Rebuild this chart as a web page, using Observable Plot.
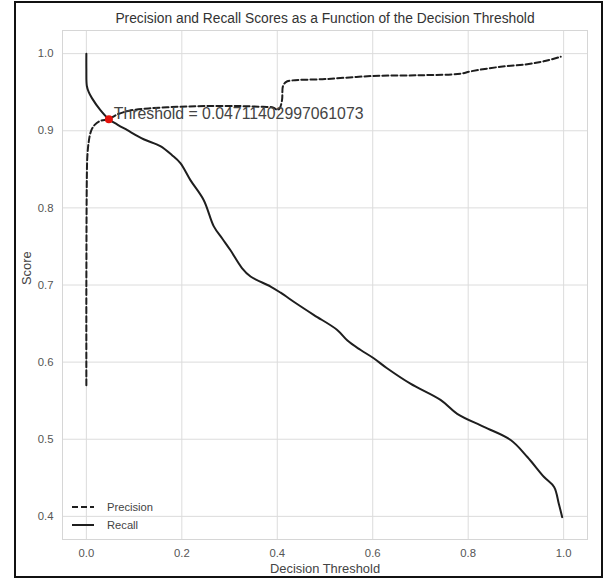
<!DOCTYPE html>
<html>
<head>
<meta charset="utf-8">
<script src="https://cdn.jsdelivr.net/npm/d3@7"></script>
<script src="https://cdn.jsdelivr.net/npm/@observablehq/plot@0.6"></script>
<style>
  html, body { margin: 0; padding: 0; background: #fff; }
  #wrap { position: relative; width: 606px; height: 582px; font-family: "Liberation Sans", Arial, sans-serif; }
  #border { position: absolute; left: 14px; top: 1px; width: 589px; height: 577px; border: 2px solid #111; box-sizing: border-box; pointer-events: none; }
  #legend { position: absolute; left: 0; top: 0; pointer-events: none; }
</style>
</head>
<body>
<div id="wrap"></div>
<script>
const titleText = "Precision and Recall Scores as a Function of the Decision Threshold";
const xLabel = "Decision Threshold";
const yLabel = "Score";
const xTicks = [0, 0.2, 0.4, 0.6, 0.8, 1.0];
const yTicks = [0.4, 0.5, 0.6, 0.7, 0.8, 0.9, 1.0];

const precisionThresholds = [0.000, 0.000, 0.001, 0.002, 0.005, 0.010, 0.018, 0.030, 0.047, 0.064, 0.090, 0.130, 0.190, 0.250, 0.320, 0.370, 0.392, 0.400, 0.405, 0.410, 0.412, 0.418, 0.428, 0.500, 0.600, 0.700, 0.784, 0.805, 0.868, 0.920, 0.958, 0.994];
const precisionValues     = [0.570, 0.700, 0.840, 0.866, 0.886, 0.900, 0.908, 0.913, 0.915, 0.921, 0.926, 0.929, 0.931, 0.932, 0.932, 0.931, 0.930, 0.927, 0.929, 0.940, 0.958, 0.963, 0.965, 0.967, 0.971, 0.972, 0.974, 0.977, 0.983, 0.986, 0.990, 0.996];

const recallThresholds = [0.000, 0.000, 0.001, 0.005, 0.012, 0.029, 0.047, 0.065, 0.085, 0.120, 0.155, 0.180, 0.197, 0.218, 0.246, 0.267, 0.285, 0.302, 0.326, 0.344, 0.386, 0.407, 0.440, 0.477, 0.525, 0.547, 0.574, 0.602, 0.630, 0.679, 0.742, 0.777, 0.833, 0.889, 0.924, 0.959, 0.980, 0.990, 0.997];
const recallValues     = [1.000, 0.980, 0.958, 0.950, 0.942, 0.927, 0.915, 0.908, 0.901, 0.889, 0.880, 0.868, 0.858, 0.836, 0.810, 0.776, 0.760, 0.745, 0.722, 0.711, 0.698, 0.690, 0.676, 0.661, 0.642, 0.628, 0.616, 0.605, 0.592, 0.572, 0.551, 0.533, 0.516, 0.499, 0.477, 0.451, 0.438, 0.416, 0.399];

const bestThreshold = 0.04711402997061073;
const bestScore = 0.915;
const annotationText = "Threshold = " + bestThreshold;
const legendLabels = ["Precision", "Recall"];

const precision = precisionThresholds.map((t, i) => ({t, v: precisionValues[i]}));
const recall = recallThresholds.map((t, i) => ({t, v: recallValues[i]}));
const best = [{t: bestThreshold, v: bestScore, label: annotationText}];

const chart = Plot.plot({
  width: 606,
  height: 582,
  marginLeft: 62,
  marginRight: 19,
  marginTop: 30,
  marginBottom: 43,
  style: {fontFamily: "'Liberation Sans', Arial, sans-serif", background: "transparent"},
  x: {domain: [-0.05, 1.05]},
  y: {domain: [0.37, 1.03]},
  marks: [
    Plot.gridX(xTicks, {stroke: "#dcdcdc", strokeOpacity: 1, strokeWidth: 1}),
    Plot.gridY(yTicks, {stroke: "#dcdcdc", strokeOpacity: 1, strokeWidth: 1}),
    Plot.frame({stroke: "#d6d6d6"}),
    Plot.axisX(xTicks, {tickSize: 0, tickPadding: 9, fontSize: 11.3, color: "#555", tickFormat: d3.format(".1f"), label: null}),
    Plot.axisY(yTicks, {tickSize: 0, tickPadding: 9, fontSize: 11.3, color: "#555", tickFormat: d3.format(".1f"), label: null}),
    Plot.text([titleText], {text: d => d, frameAnchor: "top", lineAnchor: "middle", dy: -12, fontSize: 13.8, fill: "#333"}),
    Plot.text([xLabel], {text: d => d, frameAnchor: "bottom", lineAnchor: "middle", dy: 29, fontSize: 12.9, fill: "#444"}),
    Plot.text([yLabel], {text: d => d, frameAnchor: "left", dx: -36, rotate: -90, fontSize: 12.9, fill: "#444"}),
    Plot.line(precision, {x: "t", y: "v", curve: "catmull-rom", stroke: "#1e1e1e", strokeWidth: 2, strokeDasharray: "6,3"}),
    Plot.line(recall, {x: "t", y: "v", curve: "catmull-rom", stroke: "#1e1e1e", strokeWidth: 2}),
    Plot.dot(best, {x: "t", y: "v", r: 4, fill: "#e3120b", stroke: "none"}),
    Plot.text(best, {x: "t", y: "v", text: "label", textAnchor: "start", lineAnchor: "bottom", dx: 5, dy: 0, fontSize: 15.8, fill: "#444"})
  ]
});

const wrap = document.getElementById("wrap");
wrap.appendChild(chart);

// legend (lower-left, inside the frame)
const ns = "http://www.w3.org/2000/svg";
const leg = document.createElementNS(ns, "svg");
leg.setAttribute("id", "legend");
leg.setAttribute("width", 606);
leg.setAttribute("height", 582);
const styles = [{dash: "6,3"}, {dash: null}];
const rowY = [507, 525];
legendLabels.forEach((lab, i) => {
  const ln = document.createElementNS(ns, "line");
  ln.setAttribute("x1", 72); ln.setAttribute("x2", 94);
  ln.setAttribute("y1", rowY[i]); ln.setAttribute("y2", rowY[i]);
  ln.setAttribute("stroke", "#1e1e1e"); ln.setAttribute("stroke-width", 2);
  if (styles[i].dash) ln.setAttribute("stroke-dasharray", styles[i].dash);
  leg.appendChild(ln);
  const tx = document.createElementNS(ns, "text");
  tx.setAttribute("x", 107); tx.setAttribute("y", rowY[i]);
  tx.setAttribute("dy", "0.35em");
  tx.setAttribute("font-size", 11.2);
  tx.setAttribute("fill", "#444");
  tx.setAttribute("font-family", "'Liberation Sans', Arial, sans-serif");
  tx.textContent = lab;
  leg.appendChild(tx);
});
wrap.appendChild(leg);

const border = document.createElement("div");
border.id = "border";
wrap.appendChild(border);
</script>
</body>
</html>
